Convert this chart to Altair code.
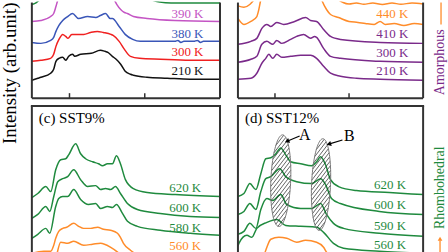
import math

import altair as alt
import numpy as np
import pandas as pd

SERIF = "Liberation Serif"
FRAME = "#333333"

BLACK = "#111111"
RED = "#f02020"
BLUE = "#3a56b8"
MAGENTA = "#c455c4"
GREEN = "#1f8a3e"
ORANGE = "#ff8c2a"
PURPLE = "#7a2a8a"

# Raman shift (cm^-1) and intensity ranges of the panels
SHIFT_DOMAIN = [50, 300]
TICK_SHIFTS = [100, 200]
TOP_DOMAIN = [0, 10]
BOTTOM_DOMAIN = [0.8, 16]

# ---------------- (a) spectra: (shift, intensity) ----------------
a_top = [(50, 9.69), (56, 9.9), (62, 10.3), (80, 11.0), (160, 11.0), (205, 10.25),
         (220, 9.95), (235, 9.85), (300, 9.85)]
a_390K = [(50, 7.94), (62, 8.04), (75, 8.45), (79, 8.76), (82, 9.48), (85, 10.3), (90, 11.3),
          (100, 11.6), (150, 11.6), (157, 10.6), (160, 10.1), (163, 9.69), (168, 9.18),
          (173, 8.87), (177, 8.76), (185, 8.45), (203, 8.25), (240, 8.04), (300, 7.94)]
a_380K = [(50, 5.77), (62, 5.67), (75, 5.98), (79, 6.29), (82, 6.91), (86, 7.53), (91, 8.04),
          (97.6, 8.45), (104, 8.76), (112, 8.25), (124, 8.45), (135, 8.35), (141, 8.55),
          (148, 8.76), (154, 8.25), (157, 8.25), (166, 7.42), (174, 6.60), (184, 6.08),
          (194, 5.88), (220, 5.88), (240, 5.88), (244, 5.98), (248, 5.77), (252, 5.88),
          (265, 5.88), (270, 5.98), (274, 5.77), (278, 5.88), (300, 5.88)]
a_300K = [(50, 3.81), (62, 3.92), (75, 4.12), (79, 4.54), (82, 5.36), (86, 6.08), (91, 6.60),
          (95, 6.39), (98, 6.19), (103, 6.60), (109, 6.60), (119, 6.60), (128, 6.80),
          (137, 6.91), (145, 6.80), (155, 6.60), (158, 6.49), (166, 5.88), (173, 5.05),
          (181, 4.33), (193, 4.12), (221, 4.02), (260, 3.92), (300, 3.92)]
a_210K = [(50, 1.86), (58, 2.06), (62, 2.16), (75, 2.58), (79, 2.99), (82, 3.81), (86, 4.12),
          (91, 4.23), (95, 3.92), (99, 4.33), (104, 4.54), (107, 4.33), (115, 4.54),
          (129, 4.64), (141, 4.95), (147, 4.85), (151, 4.74), (157, 4.33), (162, 4.02),
          (168, 3.51), (174, 2.78), (181, 2.47), (185, 2.37), (203, 2.16), (230, 2.06),
          (260, 1.96), (300, 1.96)]

# ---------------- (b) ----------------
b_top = [(50, 9.55), (58, 9.4), (66, 9.7), (72, 10.2), (80, 11.0), (180, 11.0), (186, 10.2),
         (192, 9.9), (200, 9.75), (210, 9.85), (220, 9.72), (232, 9.85), (245, 9.7),
         (258, 9.85), (270, 9.72), (285, 9.85), (300, 9.75)]
b_440K = [(50, 8.25), (58, 7.63), (67.5, 7.94), (75.5, 8.45), (78.2, 9.18), (80.9, 10.2),
          (86, 11.2), (100, 11.6), (150, 11.6), (160, 10.8), (162.9, 10.2), (169.6, 9.18),
          (175, 8.66), (185.8, 8.35), (200, 7.94), (212, 7.84), (222, 7.73), (234, 7.63),
          (242, 7.94), (249, 7.63), (261, 7.73), (274, 7.53), (288, 7.73), (300, 7.63)]
b_410K = [(50, 5.57), (67.5, 5.88), (75.5, 6.19), (82.3, 7.22), (89, 7.63), (94.4, 7.42),
          (102.4, 7.84), (111.8, 7.63), (126.6, 7.94), (141.4, 8.35), (148.1, 8.04),
          (156.2, 7.94), (165.6, 7.11), (175, 6.39), (188.4, 6.08), (242, 5.77), (300, 5.67)]
b_300K = [(50, 3.71), (67.5, 4.02), (75.5, 4.33), (82.3, 5.57), (89, 5.88), (97, 5.57),
          (102.4, 5.98), (109.1, 5.67), (121.2, 6.08), (129.3, 6.39), (138.7, 6.60),
          (148.1, 6.19), (153.5, 6.39), (156.2, 6.29), (165.6, 5.15), (175, 4.33),
          (188.4, 4.12), (242, 3.81), (300, 3.71)]
b_210K = [(50, 1.96), (67.5, 2.06), (75.5, 2.58), (82.3, 3.61), (87.6, 4.12), (91.7, 4.54),
          (97, 4.12), (102.4, 4.54), (109.1, 4.23), (121.2, 4.33), (134.7, 4.43),
          (142.7, 4.43), (148.1, 4.43), (156.2, 4.12), (165.6, 3.30), (175, 2.58),
          (188.4, 2.27), (210, 2.06), (242, 1.96), (300, 1.86)]

# ---------------- (c) SST9% ----------------
c_620K = [(50, 6.50), (57.9, 6.92), (68.5, 7.64), (75.1, 7.12), (81.7, 9.39), (88.4, 10.43),
          (95, 10.53), (98.9, 10.94), (108.2, 12.08), (114.8, 11.05), (121.4, 10.53),
          (130.7, 10.22), (138.6, 10.01), (143.9, 9.81), (150.5, 10.01), (157.1, 10.01),
          (162.4, 10.84), (167.7, 10.01), (174.3, 8.36), (184.9, 7.43), (203.4, 7.02),
          (240.5, 6.81), (300, 6.61)]
c_600K = [(50, 4.34), (57.9, 4.75), (68.5, 5.57), (73.8, 5.06), (79.1, 6.61), (84.4, 8.15),
          (91, 8.46), (97.6, 8.67), (105.6, 9.39), (114.8, 8.36), (124.1, 7.64),
          (134.7, 7.74), (141.3, 7.33), (147.9, 7.43), (154.5, 7.33), (161.1, 7.64),
          (167.7, 6.92), (177, 5.88), (190.2, 5.26), (220.6, 4.85), (260.3, 4.54), (300, 4.44)]
c_580K = [(50, 2.27), (57.9, 2.68), (68.5, 3.30), (73.8, 2.79), (81.7, 5.57), (85.7, 6.40),
          (91, 6.61), (97.6, 6.61), (105.6, 7.33), (114.8, 6.30), (125.4, 5.78),
          (134.7, 5.88), (141.3, 5.37), (150.5, 5.57), (157.1, 5.47), (162.4, 5.78),
          (170.4, 4.85), (177, 4.03), (190.2, 3.51), (220.6, 3.10), (260.3, 2.79), (300, 2.58)]
c_560K = [(50, 0.72), (65.9, 0.93), (75.1, 0.93), (79.1, 1.55), (81.7, 2.27), (85.7, 2.99),
          (91, 3.30), (96.3, 3.41), (105.6, 3.82), (112.2, 3.51), (118.8, 3.30), (128, 3.30),
          (137.3, 3.41), (145.2, 3.20), (154.5, 3.10), (163.8, 2.79), (167.7, 2.37),
          (171.7, 1.75), (181, 1.03), (194.2, 0.52), (220.6, 0.31), (300, 0.21)]
c_low = [(50, -1.24), (75.1, -0.83), (81.7, 0.21), (88.4, 1.86), (97.6, 1.75), (105.6, 1.96),
         (118.8, 1.55), (130.7, 1.65), (141.3, 1.75), (154.5, 1.34), (163.8, 0.83),
         (174.3, -0.21), (194.2, -0.83), (300, -1.24)]

# ---------------- (d) SST12% ----------------
d_620K = [(50, 6.61), (58.1, 6.92), (66.1, 7.95), (74.2, 7.33), (80.9, 8.98), (87.6, 10.53),
          (94.4, 10.63), (101.1, 11.05), (107.8, 11.66), (114.5, 10.94), (121.2, 10.22),
          (134.7, 10.01), (149.5, 9.81), (156.2, 10.22), (161.6, 10.74), (168.3, 9.91),
          (175, 8.36), (185.8, 7.64), (209.9, 7.23), (254.3, 7.02), (300, 6.81)]
d_600K = [(50, 4.75), (58.1, 5.06), (66.1, 5.88), (74.2, 5.26), (80.9, 7.12), (87.6, 8.46),
          (94.4, 8.67), (106.5, 9.50), (114.5, 8.67), (129.3, 8.15), (149.5, 7.95),
          (161.6, 8.46), (168.3, 7.85), (176.3, 6.40), (188.4, 5.88), (240.9, 5.06), (300, 4.75)]
d_590K = [(50, 2.68), (58.1, 2.99), (66.1, 3.82), (74.2, 3.30), (80.9, 5.26), (89, 6.40),
          (97, 6.19), (107.8, 6.81), (115.9, 5.78), (134.7, 5.37), (149.5, 5.37),
          (161.6, 5.88), (169.6, 4.75), (179, 3.82), (192.5, 3.30), (240.9, 2.79), (300, 2.48)]
d_560K = [(50, 1.45), (51.3, 1.75), (62.1, 2.58), (68.8, 2.37), (75.5, 3.30), (89, 3.92),
          (102.4, 4.23), (114.5, 3.61), (134.7, 3.51), (156.2, 3.41), (165.6, 2.89),
          (179, 1.75), (192.5, 1.24), (240.9, 0.93), (300, 0.72)]
d_low = [(50, -0.93), (82.3, -0.10), (87.6, 1.03), (94.4, 2.17), (105.1, 2.37), (115.9, 2.27),
         (129.3, 1.86), (141.4, 2.06), (156.2, 1.86), (165.6, 1.34), (169.6, 0.83),
         (180.4, -0.21), (214, -0.83), (300, -1.03)]

# temperature labels: x position (cm^-1) of their right edge per panel
LABEL_X = {"a": 278, "b": 280, "c": 275, "d": 277}

# hatched regions A and B in (d): centre, half-width (cm^-1), half-height (a.u.)
REGION_A = {"cx": 107.8, "cy": 8.25, "rx": 13.4, "ry": 4.76}
REGION_B = {"cx": 162.2, "cy": 7.85, "rx": 12.8, "ry": 4.76}
# arrows pointing at the regions: start -> end, and letter positions
ARROW_A = (133.3, 12.90, 117.2, 12.38)
ARROW_B = (191.1, 12.48, 173.7, 12.07)
LETTER_A = (140.1, 12.95)
LETTER_B = (200.5, 12.85)

PANEL_A = [("a1", a_top, None, None, GREEN),
           ("a2", a_390K, "390 K", 8.66, MAGENTA),
           ("a3", a_380K, "380 K", 6.60, BLUE),
           ("a4", a_300K, "300 K", 4.74, RED),
           ("a5", a_210K, "210 K", 2.78, BLACK)]
PANEL_B = [("b1", b_top, None, None, ORANGE),
           ("b2", b_440K, "440 K", 8.66, ORANGE),
           ("b3", b_410K, "410 K", 6.60, PURPLE),
           ("b4", b_300K, "300 K", 4.64, PURPLE),
           ("b5", b_210K, "210 K", 2.78, PURPLE)]
PANEL_C = [("c1", c_620K, "620 K", 7.54, GREEN),
           ("c2", c_600K, "600 K", 5.37, GREEN),
           ("c3", c_580K, "580 K", 3.30, GREEN),
           ("c4", c_560K, "560 K", 1.42, ORANGE),
           ("c5", c_low, None, None, ORANGE)]
PANEL_D = [("d1", d_620K, "620 K", 7.85, GREEN),
           ("d2", d_600K, "600 K", 5.68, GREEN),
           ("d3", d_590K, "590 K", 3.51, GREEN),
           ("d4", d_560K, "560 K", 1.58, GREEN),
           ("d5", d_low, None, None, ORANGE)]

W_LEFT, W_RIGHT = 189, 186
H_TOP, H_BOTTOM = 97, 147

ONE = alt.Data(values=[{"k": 0}])


def frame_rule(**enc):
    return alt.Chart(ONE).mark_rule(color=FRAME, strokeWidth=2).encode(**enc)


def note(text, x, y, size, color="black", angle=0, align="center"):
    return alt.Chart(ONE).mark_text(
        text=text, font=SERIF, fontSize=size, color=color, angle=angle,
        align=align, baseline="middle",
    ).encode(x=alt.value(x), y=alt.value(y))


def panel(curves, label_x, width, height, ydomain, top_row):
    rows, labs = [], []
    for sid, pts, text, ly, _ in curves:
        rows += [{"series": sid, "shift": x, "intensity": y} for x, y in pts]
        if text:
            labs.append({"series": sid, "shift": label_x, "intensity": ly, "text": text})
    X = alt.X("shift:Q", scale=alt.Scale(domain=SHIFT_DOMAIN, nice=False, zero=False), axis=None)
    Y = alt.Y("intensity:Q", scale=alt.Scale(domain=ydomain, nice=False, zero=False), axis=None)
    color = alt.Color(
        "series:N",
        scale=alt.Scale(domain=[c[0] for c in curves], range=[c[4] for c in curves]),
        legend=None,
    )
    lines = alt.Chart(pd.DataFrame(rows)).mark_line(
        strokeWidth=1.5, interpolate="monotone", clip=True
    ).encode(x=X, y=Y, color=color, detail="series:N")
    labels = alt.Chart(pd.DataFrame(labs)).mark_text(
        font=SERIF, fontSize=13, align="right", baseline="middle"
    ).encode(x=X, y=Y, text="text:N", color=color)
    layers = [lines, labels]
    if top_row:
        layers += [
            frame_rule(x=alt.value(0), y=alt.value(1), y2=alt.value(height)),
            frame_rule(x=alt.value(width), y=alt.value(1), y2=alt.value(height)),
            frame_rule(y=alt.value(height), x=alt.value(0), x2=alt.value(width)),
            alt.Chart(pd.DataFrame({"shift": TICK_SHIFTS})).mark_rule(
                color=FRAME, strokeWidth=1.5
            ).encode(x=X, y=alt.value(height), y2=alt.value(height - 5)),
        ]
    else:
        layers += [
            frame_rule(x=alt.value(0), y=alt.value(0), y2=alt.value(height)),
            frame_rule(x=alt.value(width), y=alt.value(0), y2=alt.value(height)),
            frame_rule(y=alt.value(0), x=alt.value(-1), x2=alt.value(width + 1)),
        ]
    return layers, X, Y


# ---- panel (a) with the shared intensity title ----
la, _, _ = panel(PANEL_A, LABEL_X["a"], W_LEFT, H_TOP, TOP_DOMAIN, True)
la.append(note("Intensity (arb.unit)", -22, 72, 19, angle=270))
pa = alt.layer(*la).properties(width=W_LEFT, height=H_TOP)

# ---- panel (b) with the amorphous marker ----
lb, _, _ = panel(PANEL_B, LABEL_X["b"], W_RIGHT, H_TOP, TOP_DOMAIN, True)
lb.append(note("Amorphous", 203, 61, 14, color=PURPLE, angle=270))
lb.append(alt.Chart(ONE).mark_rule(color=ORANGE, strokeWidth=1.3).encode(
    x=alt.value(204), y=alt.value(1), y2=alt.value(23)))
pb = alt.layer(*lb).properties(width=W_RIGHT, height=H_TOP)

# ---- panel (c) ----
lc, _, _ = panel(PANEL_C, LABEL_X["c"], W_LEFT, H_BOTTOM, BOTTOM_DOMAIN, False)
lc.append(note("(c) SST9%", 7, 12, 15, align="left"))
pc = alt.layer(*lc).properties(width=W_LEFT, height=H_BOTTOM)

# ---- panel (d) with hatched regions A and B ----
ld, X, Y = panel(PANEL_D, LABEL_X["d"], W_RIGHT, H_BOTTOM, BOTTOM_DOMAIN, False)
ld.append(note("(d) SST12%", 7, 12, 15, align="left"))

kx = W_RIGHT / (SHIFT_DOMAIN[1] - SHIFT_DOMAIN[0])
ky = H_BOTTOM / (BOTTOM_DOMAIN[1] - BOTTOM_DOMAIN[0])
LEAN = 0.04      # slight clockwise lean of the regions
SLOPE = 1.3      # hatch direction (rise over run)
GAP = 3.8        # hatch spacing along the horizontal


def region_outline(name, e):
    a, b = e["rx"] * kx, e["ry"] * ky
    t = np.linspace(0, 2 * np.pi, 97)
    v = b * np.sin(t)
    u = a * np.cos(t) + LEAN * v
    return pd.DataFrame({"region": name, "t": t,
                         "shift": e["cx"] + u / kx, "intensity": e["cy"] + v / ky})


def region_hatch(e):
    a, b = e["rx"] * kx, e["ry"] * ky
    p = 1 / SLOPE - LEAN
    A = p * p / a ** 2 + 1 / b ** 2
    segs = []
    cmax = a + b / SLOPE + 2
    for c in np.arange(-cmax, cmax, GAP):
        B = 2 * p * c / a ** 2
        C = c * c / a ** 2 - 1
        disc = B * B - 4 * A * C
        if disc <= 0:
            continue
        r = math.sqrt(disc)
        v1, v2 = (-B - r) / (2 * A), (-B + r) / (2 * A)
        segs.append({"shift": e["cx"] + (v1 / SLOPE + c) / kx, "intensity": e["cy"] + v1 / ky,
                     "x2": e["cx"] + (v2 / SLOPE + c) / kx, "y2": e["cy"] + v2 / ky})
    return segs


hatch = pd.DataFrame(region_hatch(REGION_A) + region_hatch(REGION_B))
outline = pd.concat([region_outline("A", REGION_A), region_outline("B", REGION_B)])

ld.append(alt.Chart(hatch).mark_rule(color="#222222", strokeWidth=0.7).encode(
    x=X, y=Y, x2="x2:Q", y2="y2:Q"))
ld.append(alt.Chart(outline).mark_line(color="#777777", strokeWidth=1).encode(
    x=X, y=Y, order="t:Q", detail="region:N"))

arrows = []
for x1, y1, x2, y2 in (ARROW_A, ARROW_B):
    dxp, dyp = (x2 - x1) * kx, -(y2 - y1) * ky
    ang = math.degrees(math.atan2(dxp, -dyp)) % 360
    arrows.append({"shift": x1, "intensity": y1, "x2": x2, "y2": y2, "angle": ang})
arrows = pd.DataFrame(arrows)
ld.append(alt.Chart(arrows).mark_rule(color="black", strokeWidth=1.2).encode(
    x=X, y=Y, x2="x2:Q", y2="y2:Q"))
ld.append(alt.Chart(arrows).mark_point(
    shape="triangle", filled=True, color="black", size=28, opacity=1
).encode(x=alt.X("x2:Q", scale=alt.Scale(domain=SHIFT_DOMAIN, nice=False, zero=False), axis=None),
         y=alt.Y("y2:Q", scale=alt.Scale(domain=BOTTOM_DOMAIN, nice=False, zero=False), axis=None),
         angle=alt.Angle("angle:Q", scale=None)))
letters = pd.DataFrame({"shift": [LETTER_A[0], LETTER_B[0]],
                        "intensity": [LETTER_A[1], LETTER_B[1]], "text": ["A", "B"]})
ld.append(alt.Chart(letters).mark_text(font=SERIF, fontSize=16, baseline="middle").encode(
    x=X, y=Y, text="text:N"))

ld.append(note("Rhombohedral", 203, 82, 14, color=GREEN, angle=270))
ld.append(alt.Chart(ONE).mark_rule(color=ORANGE, strokeWidth=1.3).encode(
    x=alt.value(203), y=alt.value(135), y2=alt.value(H_BOTTOM)))
ld.append(alt.Chart(ONE).mark_point(
    shape="triangle", filled=True, color=ORANGE, size=22, opacity=1
).encode(x=alt.value(203), y=alt.value(134)))
pd_ = alt.layer(*ld).properties(width=W_RIGHT, height=H_BOTTOM)

chart = (
    alt.concat(pa, pb, pc, pd_, columns=2, spacing={"row": 8, "column": 18}, bounds="flush")
    .resolve_scale(color="independent", x="independent", y="independent")
    .properties(padding=0, background="white")
    .configure_view(stroke="transparent")
)

chart.save("out.html", embed_options={"renderer": "svg", "actions": False})
